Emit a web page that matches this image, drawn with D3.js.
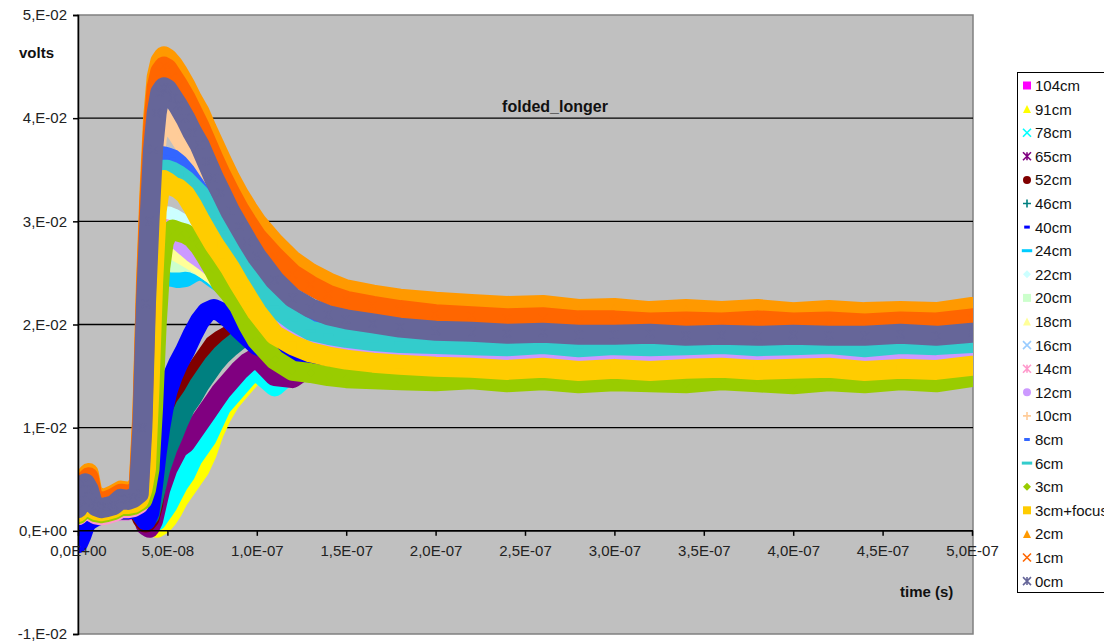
<!DOCTYPE html>
<html><head><meta charset="utf-8">
<script src="https://cdn.jsdelivr.net/npm/d3@7"></script>
<style>
html,body{margin:0;padding:0;background:#fff;overflow:hidden;}
svg{display:block;font-family:Arial,"Liberation Sans",sans-serif;}
</style></head><body>
<svg id="chart" width="1104" height="641"></svg>
<script>
// time samples in nanoseconds (axis shows seconds)
const timeNs = [0,2,4,6,8,10,13,16,20,24,28,31,34,
  36,38,40,42,44,46,48,50,53,56,60,64,68,72,76,80,85,90,95,100,
  110,120,130,140,150,165,180,200,220,240,260,280,300,320,340,360,380,400,420,440,460,480,500];

const seriesNames  = ["104cm","91cm","78cm","65cm","52cm","46cm","40cm","24cm","22cm","20cm","18cm","16cm","14cm","12cm","10cm","8cm","6cm","3cm","3cm+focus","2cm","1cm","0cm"];
const seriesColors = ["#FF00FF","#FFFF00","#00FFFF","#800080","#800000","#008080","#0000FF","#00CCFF","#CCFFFF","#CCFFCC","#FFFF99","#99CCFF","#FF99CC","#CC99FF","#FFCC99","#3366FF","#33CCCC","#99CC00","#FFCC00","#FF9900","#FF6600","#666699"];
const seriesMarkers = ["square","triangle","x","asterisk","circle","plus","dash","longdash","diamond","square","triangle","x","asterisk","circle","plus","dash","longdash","diamond","square","triangle","x","asterisk"];

// values in millivolts (axis shows volts)
const v104cm = [-0.3,0.5,1.1,1.4,1.5,1.6,1.7,1.8,1.9,2.0,2.0,2.1,1.9,
  1.7,1.3,1.0,0.8,0.8,1.0,1.5,2,3,3.8,5,6,7,8.5,10,11.5,13,14,15,15.8,
  16.0,16.2,16.4,16.5,16.5,16.6,16.5,16.6,16.7,16.5,16.6,16.4,16.6,16.5,16.7,16.5,16.6,16.4,16.6,16.5,16.7,16.5,16.8];
const v91cm = [-0.2,0.6,1.2,1.5,1.6,1.7,1.8,1.9,2.0,2.1,2.1,2.2,2.0,
  1.8,1.5,1.0,0.5,0.3,0.5,0.8,1.2,2,3,4,5,6,7.5,9.5,11,12.5,13.5,14.5,15.5,
  15.5,16.0,16.2,16.3,16.4,16.5,16.3,16.4,16.5,16.3,16.4,16.2,16.4,16.3,16.5,16.3,16.4,16.2,16.4,16.3,16.5,16.3,16.6];
const v78cm = [-0.3,0.5,1.2,1.5,1.6,1.7,1.8,1.9,2.0,2.1,2.1,2.2,2.0,
  1.8,1.5,1.0,0.8,1.0,1.5,2,2.5,3.5,4.5,5.5,7,8,9,10.5,12,13,14,15,15.5,
  14.0,15.5,16.0,16.3,16.4,16.5,16.4,16.5,16.6,16.4,16.5,16.3,16.5,16.4,16.6,16.4,16.5,16.3,16.5,16.4,16.6,16.4,16.7];
const v65cm = [-0.4,0.4,1.1,1.4,1.5,1.7,1.8,1.9,2.0,2.1,2.1,2.2,1.9,
  1.5,0.5,0.3,1.0,2.5,4,5,6,7,8,8.5,9.5,10.5,11.5,12.5,13.5,14.5,15.5,16.3,16.8,
  15.0,14.8,16.0,16.5,16.6,16.8,16.7,16.8,16.9,16.7,16.8,16.6,16.8,16.7,16.9,16.7,16.8,16.6,16.8,16.7,16.9,16.7,17.0];
const v52cm = [-0.8,0.0,0.8,1.2,1.3,1.5,1.7,1.8,2.0,2.1,2.1,2.2,2.0,
  1.2,0.8,1.2,2.5,5,7,8.5,10,11.5,12.5,14,15,16,17,18,18.5,19,19.3,19,18.5,
  17.5,16.9,16.7,16.6,16.5,16.6,16.4,16.5,16.6,16.4,16.5,16.3,16.5,16.4,16.6,16.4,16.5,16.3,16.5,16.4,16.6,16.4,16.7];
const v46cm = [-0.6,0.2,1.0,1.3,1.4,1.6,1.7,1.9,2.0,2.1,2.1,2.2,2.0,
  1.5,1.2,1.5,3,4.5,6,7,8,9.2,10.5,12,13,14.2,15.2,16.2,17,17.8,18.5,19,18.8,
  17.6,17.0,16.8,16.7,16.6,16.7,16.5,16.6,16.7,16.5,16.6,16.4,16.6,16.5,16.7,16.5,16.6,16.4,16.6,16.5,16.7,16.5,16.8];
const v40cm = [-1.2,-0.4,0.6,1.0,1.2,1.4,1.6,1.8,1.9,2.1,2.1,2.2,2.0,
  1.5,1.0,1.8,4.5,7.5,10,12,13.5,15,16.2,17.5,19,20.3,21.2,21.5,21.2,20.5,19.6,18.8,18,
  17.3,17.0,16.9,16.8,16.7,16.8,16.6,16.7,16.8,16.6,16.7,16.5,16.7,16.6,16.8,16.6,16.7,16.5,16.7,16.6,16.8,16.6,16.9];
const v24cm = [1.6,2.0,2.7,2.7,2.0,1.8,1.7,1.8,2.0,2.4,2.4,2.5,2.8,
  3.5,7,13,20,23.5,24.6,25,24.8,24.6,24.5,24.6,25,25.3,25,24.5,24,23.2,22.2,21.3,20.5,
  19.4,18.7,18.2,17.9,17.7,17.5,17.4,17.3,17.2,17.1,17.3,17.0,17.2,17.1,17.0,17.2,17.1,17.0,17.2,16.9,17.2,17.1,17.3];
const v22cm = [3.0,3.4,4.2,4.4,3.0,2.7,2.5,2.6,2.9,3.3,3.2,3.3,3.8,
  6,13,22,27,29,30,30.5,30.5,30.3,30,29.6,29.2,28.8,28.4,28,27.6,27.2,26.8,26.5,26.3,
  26.0,25.8,23.8,22.8,22.2,21.6,21.2,20.8,20.6,20.4,20.5,20.2,20.3,20.1,20.2,20.1,20.3,20.1,20.2,20.0,20.2,20.1,20.4];
const v20cm = [1.7,2.1,2.9,2.9,2.1,1.9,1.8,1.9,2.1,2.5,2.5,2.6,2.9,
  4,8,15,22,25,26,26.3,26.2,26,26,26.1,26,25.7,25.3,24.8,24.2,23.3,22.4,21.5,20.7,
  19.6,18.9,18.4,18.1,17.9,17.7,17.6,17.5,17.4,17.3,17.5,17.2,17.4,17.3,17.2,17.4,17.3,17.2,17.4,17.1,17.4,17.3,17.5];
const v18cm = [1.8,2.2,3.0,3.0,2.2,2.0,1.9,2.0,2.2,2.6,2.6,2.7,3.0,
  4,9,17,24,27,27.8,28,27.8,27.4,27,26.6,26.2,25.8,25.3,24.8,24.2,23.4,22.5,21.6,20.8,
  19.8,19.1,18.6,18.3,18.1,17.9,17.8,17.7,17.6,17.5,17.7,17.4,17.6,17.5,17.4,17.6,17.5,17.4,17.6,17.3,17.6,17.5,17.7];
const v16cm = [1.7,2.1,2.9,2.9,2.1,1.9,1.8,1.9,2.1,2.5,2.5,2.6,2.9,
  5,12,20,26,28.5,29,29,28.8,28.5,28.2,27.8,27.3,26.8,26.2,25.6,25,24.2,23.3,22.4,21.6,
  20.6,19.9,19.4,19.1,18.9,18.7,18.6,18.5,18.4,18.3,18.5,18.2,18.4,18.3,18.2,18.4,18.3,18.2,18.4,18.1,18.4,18.3,18.5];
const v14cm = [1.5,1.8,2.5,2.6,1.8,1.6,1.5,1.6,1.8,2.2,2.2,2.3,2.6,
  4,9,18,25,28,29,29.3,29.2,29,28.8,28.5,28,27.5,27,26.4,25.8,25,24.2,23.3,22.5,
  21.0,19.8,19.0,18.6,18.3,18.0,17.8,17.6,17.5,17.4,17.6,17.3,17.5,17.4,17.3,17.5,17.4,17.3,17.5,17.2,17.5,17.4,17.6];
const v12cm = [1.8,2.2,3.0,3.0,2.2,2.0,1.9,2.0,2.2,2.6,2.6,2.7,3.0,
  5,10,18,25,28,29,29.2,29,28.6,28.2,27.6,27,26.5,26,25.4,24.8,24,23,22,21.2,
  19.8,18.9,18.2,17.8,17.5,17.3,17.1,17.0,16.9,16.8,17.0,16.7,16.9,16.8,16.7,16.9,16.8,16.7,16.9,16.6,16.9,16.8,17.0];
const v10cm = [2.0,2.6,3.8,3.6,2.6,2.3,2.1,2.2,2.4,2.9,2.9,3.0,3.3,
  8,18,27,34,38,39.5,40,39.8,39.2,38.4,37.3,36,34.8,33.4,32,30.6,29,27.6,26.2,25,
  22.8,21.3,20.3,19.7,19.3,19.0,18.7,18.5,18.4,18.2,18.4,18.2,18.1,18.3,18.1,18.2,18.0,18.2,18.1,18.0,18.2,18.1,18.4];
const v8cm = [1.9,2.3,3.2,3.2,2.3,2.1,2.0,2.1,2.3,2.7,2.7,2.8,3.1,
  7,16,26,32,35,36,36.3,36.2,36,35.6,34.8,33.8,32.8,31.6,30.6,29.6,28.3,27,25.8,24.8,
  23,21.5,20.5,19.8,19.4,19.0,18.7,18.5,18.4,18.3,18.4,18.2,18.3,18.2,18.3,18.2,18.1,18.3,18.2,18.1,18.3,18.2,18.5];
const v6cm = [2.0,2.4,3.4,3.4,2.4,2.2,2.1,2.2,2.4,2.8,2.8,2.9,3.2,
  6,14,24,30,33,34.5,35,35,34.8,34.5,34,33.3,32.6,31.4,30.2,29,27.7,26.3,25,23.8,
  21.7,20.4,19.4,19.0,18.7,18.4,18.2,18.1,18.0,17.9,18.1,17.8,18.0,17.9,18.0,18.1,17.9,18.0,18.1,17.8,18.1,18.0,18.2];
const v3cm = [1.6,2.0,2.8,2.8,2.0,1.8,1.7,1.8,2.0,2.4,2.4,2.5,2.8,
  3,4,6,12,20,25.5,28,28.8,29.2,29,28.8,28.4,27.6,26.5,25.3,24,23,21.8,20,18.5,
  16.6,15.5,15.3,15.0,14.8,14.7,14.6,14.5,14.7,14.4,14.6,14.3,14.5,14.4,14.3,14.6,14.4,14.2,14.5,14.3,14.6,14.4,14.9];
const v3cmFocus = [1.8,2.2,3.0,3.0,2.2,2.0,1.9,2.0,2.2,2.6,2.6,2.7,3.0,
  4,6,14,24,31,33.5,34,33.8,33.4,33.2,32.6,31.5,30.2,29,27.8,26.8,25.5,24,22.6,21.2,
  19.0,18.0,17.3,16.9,16.6,16.3,16.1,15.9,15.8,15.6,15.8,15.5,15.7,15.5,15.7,15.8,15.6,15.7,15.8,15.5,15.7,15.6,16.0];
const v2cm = [4.0,4.4,5.2,5.6,3.8,3.4,3.1,3.2,3.5,3.9,3.8,3.9,4.6,
  11.5,24,33,40,44,45.5,46,45.8,45.2,44.4,43.2,41.8,40.6,39,37.5,36,34.2,32.6,31.2,29.9,
  27.9,26.2,25,24.1,23.4,22.9,22.5,22.2,22.0,21.8,21.9,21.5,21.6,21.3,21.5,21.3,21.5,21.2,21.4,21.2,21.3,21.2,21.7];
const v1cm = [3.6,4.0,4.8,5.2,3.4,3.0,2.8,2.9,3.2,3.6,3.5,3.6,4.2,
  11,23,32,39,43,44.5,45,44.8,44,43.2,42,40.6,39.2,37.6,36,34.5,32.8,31.2,29.8,28.5,
  26.6,24.9,23.8,22.9,22.3,21.8,21.4,21.0,20.8,20.6,20.7,20.4,20.4,20.2,20.3,20.2,20.4,20.2,20.3,20.1,20.3,20.2,20.6];
const v0cm = [2.2,3.0,4.6,4.0,2.8,2.4,2.2,2.3,2.5,3.1,3.0,3.2,3.6,
  10,22,30,37,40.5,42.5,43,42.8,42,41.2,40,38.6,37.4,35.8,34.2,32.8,31,29.5,28,26.6,
  24.3,22.6,21.6,20.9,20.5,20.1,19.7,19.4,19.3,19.1,19.2,19.0,19.0,19.1,18.9,19.0,18.9,19.0,18.9,18.9,19.1,18.9,19.2];

const seriesValues = [v104cm,v91cm,v78cm,v65cm,v52cm,v46cm,v40cm,v24cm,v22cm,v20cm,v18cm,v16cm,v14cm,v12cm,v10cm,v8cm,v6cm,v3cm,v3cmFocus,v2cm,v1cm,v0cm];

const yTickValues = [-10,0,10,20,30,40,50];
const yTickLabels = ["-1,E-02","0,E+00","1,E-02","2,E-02","3,E-02","4,E-02","5,E-02"];
const xTickValues = [0,50,100,150,200,250,300,350,400,450,500];
const xTickLabels = ["0,0E+00","5,0E-08","1,0E-07","1,5E-07","2,0E-07","2,5E-07","3,0E-07","3,5E-07","4,0E-07","4,5E-07","5,0E-07"];

const svg = d3.select("#chart");
const plot = {left:78, right:973, top:15, bottom:634};
const x = d3.scaleLinear().domain([0,500]).range([plot.left, 972]);
const y = d3.scaleLinear().domain([-10,50]).range([plot.bottom, plot.top]);

svg.append("rect").attr("x",plot.left).attr("y",plot.top)
  .attr("width",plot.right-plot.left).attr("height",plot.bottom-plot.top)
  .attr("fill","#C0C0C0").attr("stroke","#808080").attr("stroke-width",1.5);

svg.append("defs").append("clipPath").attr("id","clip").append("rect")
  .attr("x",plot.left).attr("y",plot.top).attr("width",plot.right-plot.left).attr("height",plot.bottom-plot.top);

// gridlines
svg.append("g").selectAll("line").data(yTickValues.filter(v=>v>-10 && v<50)).join("line")
  .attr("x1",plot.left).attr("x2",plot.right).attr("y1",d=>y(d)).attr("y2",d=>y(d))
  .attr("stroke","#000").attr("stroke-width",1.3);

function markerPath(type, r){
  switch(type){
    case "square": return `M${-r},${-r}h${2*r}v${2*r}h${-2*r}Z`;
    case "triangle": return `M0,${-r}L${r},${r}L${-r},${r}Z`;
    case "diamond": return `M0,${-r}L${r},0L0,${r}L${-r},0Z`;
    case "circle": return `M${r},0A${r},${r} 0 1,1 ${-r},0A${r},${r} 0 1,1 ${r},0Z`;
    case "x": return `M${-r},${-r}L${r},${r}M${r},${-r}L${-r},${r}`;
    case "asterisk": return `M${-r},${-r}L${r},${r}M${r},${-r}L${-r},${r}M0,${-r}V${r}`;
    case "plus": return `M${-r},0H${r}M0,${-r}V${r}`;
    case "dash": return `M${-r*0.7},0H${r*0.7}`;
    case "longdash": return `M${-r*1.3},0H${r*1.3}`;
  }
}
const filled = t => ["square","triangle","diamond","circle"].includes(t);
function styleMarker(sel, type, color){
  if(filled(type)) sel.attr("fill",color).attr("stroke","none");
  else sel.attr("fill","none").attr("stroke",color).attr("stroke-width", type.includes("dash")?3:1.6);
}

const dataG = svg.append("g").attr("clip-path","url(#clip)");
const line = d3.line().x((d,i)=>x(timeNs[i])).y(d=>y(d));
seriesValues.forEach((vals,si)=>{
  const g = dataG.append("g");
  const col = seriesColors[si];
  g.append("path").attr("d", line(vals)).attr("fill","none").attr("stroke",col)
    .attr("stroke-width",20).attr("stroke-linejoin","round").attr("stroke-linecap","round");
  g.selectAll("path.m").data(vals).join("path").attr("class","m")
    .attr("transform",(d,i)=>`translate(${x(timeNs[i])},${y(d)})`)
    .attr("d",markerPath(seriesMarkers[si],4))
    .call(s=>styleMarker(s,seriesMarkers[si],col));
});

// axes
const yAxis = d3.axisLeft(y).tickValues(yTickValues).tickFormat((d,i)=>yTickLabels[i]).tickSize(5).tickPadding(6);
const gy = svg.append("g").attr("transform",`translate(${plot.left},0)`).call(yAxis);
const xAxis = d3.axisBottom(x).tickValues(xTickValues).tickFormat((d,i)=>xTickLabels[i]).tickSize(5).tickPadding(10);
const gx = svg.append("g").attr("transform",`translate(0,${y(0)})`).call(xAxis);
[gy,gx].forEach(g=>{
  g.select(".domain").attr("stroke","#000").attr("stroke-width",1.5);
  g.selectAll(".tick line").attr("stroke","#000").attr("stroke-width",1.5);
  g.selectAll(".tick text").attr("fill","#222").style("font-size","15px").style("font-family","Arial, 'Liberation Sans', sans-serif");
});
gx.select(".domain").attr("d",`M${plot.left},0H${plot.right}`);

svg.append("text").attr("x",555).attr("y",112).attr("text-anchor","middle")
  .style("font-size","16px").style("font-weight","bold").attr("fill","#111").text("folded_longer");
svg.append("text").attr("x",19).attr("y",58)
  .style("font-size","15px").style("font-weight","bold").attr("fill","#111").text("volts");
svg.append("text").attr("x",900).attr("y",597)
  .style("font-size","15px").style("font-weight","bold").attr("fill","#111").text("time (s)");

// legend
const leg = svg.append("g");
leg.append("rect").attr("x",1017.5).attr("y",72.5).attr("width",100).attr("height",520)
  .attr("fill","#fff").attr("stroke","#000").attr("stroke-width",1);
seriesNames.forEach((name,i)=>{
  const cy = 85.5 + i*23.6;
  const m = leg.append("path").attr("transform",`translate(1027,${cy})`)
    .attr("d",markerPath(seriesMarkers[i],4));
  styleMarker(m, seriesMarkers[i], seriesColors[i]);
  leg.append("text").attr("x",1035).attr("y",cy).attr("dy","0.36em")
    .style("font-size","15px").attr("fill","#111").text(name);
});
</script>
</body></html>
